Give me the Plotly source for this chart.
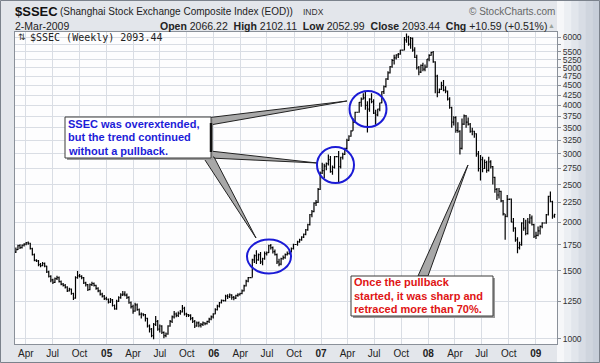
import pandas as pd
import plotly.graph_objects as go

# ---------------- data: $SSEC weekly bars (27-Feb-2004 .. 2-Mar-2009) ----------------
opens = [
    # 2004
    1675,1700,1740,1720,1745,1755,1770,1765,1710,1650,1595,1590,1555,1545,1565,1540,1490,1450,1420,1400,1430,1440,1405,1385,1375,1360,1330,1345,1310,1275,1440,1455,1450,1440,1395,1380,1340,1380,1390,1375,1350,1330,1305,1290,1270,
    # 2005
    1266,1245,1262,1220,1195,1250,1278,1300,1305,1298,1280,1240,1212,1180,1225,1190,1158,1160,1155,1130,1080,1060,1020,1090,1110,1060,1080,1040,1020,1030,1080,1110,1140,1160,1150,1165,1175,1200,1160,1155,1150,1130,1110,1080,1100,1085,1090,1100,1095,1110,1125,1140,
    # 2006
    1161,1190,1215,1240,1258,1255,1290,1285,1300,1280,1275,1295,1300,1310,1330,1370,1410,1440,1440,1600,1640,1600,1650,1580,1610,1660,1670,1740,1720,1680,1650,1580,1560,1610,1620,1650,1660,1680,1710,1752,1752,1780,1800,1830,1860,1910,1970,2090,2130,2240,2250,2430,
    # 2007
    2675,2715,2790,2830,2900,2700,2770,2950,2950,2780,2940,2990,3100,3250,3330,3440,3620,3840,3840,4070,4150,4180,4000,3910,4150,4090,3820,3780,3910,4060,4340,4470,4680,4850,5030,5220,5300,5400,5420,5550,5552,5900,6000,5750,5950,5550,5320,5000,4870,5070,4960,5020,
    # 2008
    5260,5380,5480,5180,4760,4320,4400,4500,4380,4350,4150,3950,3620,3720,3450,3430,3100,3580,3760,3620,3580,3430,3430,3380,3000,2750,2900,2750,2850,2720,2860,2780,2610,2430,2350,2400,2270,2100,2070,2290,2293,2000,1930,1800,1720,1750,1990,1930,1870,2000,2050,1970,
    # 2009
    1840,1850,1900,1950,1990,1990,2090,2330,2260,2066.22,
]
highs = [
    1720,1750,1755,1752,1765,1778,1783,1770,1718,1660,1605,1598,1570,1580,1575,1545,1500,1460,1430,1440,1455,1448,1415,1395,1385,1368,1355,1350,1315,1450,1496,1470,1460,1445,1405,1385,1390,1405,1398,1380,1360,1340,1315,1298,1285,
    1272,1275,1268,1228,1262,1288,1312,1330,1328,1310,1288,1250,1225,1240,1235,1198,1170,1165,1160,1135,1090,1068,1100,1146,1120,1090,1085,1045,1040,1085,1120,1150,1180,1170,1178,1188,1223,1210,1168,1160,1158,1140,1120,1110,1110,1100,1110,1105,1115,1135,1150,1165,
    1200,1225,1245,1265,1262,1300,1305,1310,1305,1290,1300,1312,1315,1342,1380,1422,1445,1445,1610,1650,1692,1660,1675,1620,1680,1680,1750,1757,1730,1700,1660,1610,1620,1640,1660,1680,1690,1720,1760,1758,1790,1812,1840,1870,1920,1980,2100,2150,2250,2280,2450,2700,
    2847,2830,2850,2990,2960,2800,2960,2960,3050,2950,3020,3110,3280,3350,3450,3700,3850,3850,4080,4190,4300,4335,4100,4170,4300,4150,3900,3920,4060,4350,4500,4700,4900,5050,5270,5400,5420,5460,5560,5560,6000,6124,6050,6000,5980,5650,5400,5050,5100,5150,5100,5270,
    5420,5500,5522,5200,4800,4420,4600,4650,4480,4370,4200,3970,3750,3750,3620,3450,3700,3790,3780,3720,3600,3500,3440,3390,3050,2980,2950,2900,2880,2950,2890,2790,2620,2450,2450,2410,2280,2100,2350,2300,2300,2050,1940,1830,1780,2000,2050,2030,2050,2100,2080,1980,
    1890,1950,1960,2000,1995,2100,2340,2400,2270,2102.11,
]
lows = [
    1665,1695,1705,1712,1730,1745,1750,1700,1640,1585,1580,1540,1530,1540,1530,1480,1440,1400,1385,1395,1420,1398,1375,1365,1350,1322,1325,1300,1260,1270,1430,1440,1425,1385,1365,1330,1335,1370,1365,1340,1320,1295,1280,1260,1258,
    1235,1238,1212,1189,1190,1245,1270,1290,1288,1268,1232,1198,1162,1175,1182,1150,1130,1145,1110,1070,1040,1010,998,1080,1050,1040,1030,1004,1010,1025,1075,1100,1130,1138,1140,1155,1170,1150,1140,1140,1118,1100,1067,1075,1072,1070,1080,1085,1090,1100,1118,1130,
    1158,1185,1205,1235,1250,1250,1268,1275,1262,1258,1268,1285,1295,1305,1325,1365,1400,1438,1440,1570,1560,1590,1560,1550,1600,1640,1665,1700,1660,1640,1560,1540,1550,1600,1610,1640,1650,1670,1700,1748,1740,1770,1790,1820,1850,1900,1960,2060,2120,2200,2240,2420,
    2660,2600,2720,2800,2680,2650,2750,2940,2540,2750,2900,2980,3080,3240,3320,3440,3600,3830,3830,3970,4140,3900,3404,3850,4050,3800,3563,3750,3860,4050,4280,4450,4650,4830,5000,5100,5250,5300,5400,5540,5550,5800,5700,5600,5500,5300,4950,4780,4850,4900,4900,5000,
    5200,5370,5150,4300,4200,4300,4380,4350,4300,4120,3920,3500,3550,3400,3400,2990,3080,3560,3500,3550,3400,3350,3300,2950,2700,2560,2690,2740,2680,2700,2750,2500,2380,2280,2300,2250,2080,1802,2060,2280,2000,1890,1780,1664,1700,1740,1900,1850,1860,1980,1960,1820,
    1810,1840,1860,1930,1985,1980,2080,2250,2040,2052.99,
]
closes = [
    1700,1740,1720,1745,1755,1770,1765,1710,1650,1595,1590,1555,1545,1565,1540,1490,1450,1420,1400,1430,1440,1405,1385,1375,1360,1330,1345,1310,1275,1440,1455,1450,1440,1395,1380,1340,1380,1390,1375,1350,1330,1305,1290,1270,1266,
    1245,1262,1220,1195,1250,1278,1300,1305,1298,1280,1240,1212,1180,1225,1190,1158,1160,1155,1130,1080,1060,1020,1090,1110,1060,1080,1040,1020,1030,1080,1110,1140,1160,1150,1165,1175,1200,1160,1155,1150,1130,1110,1080,1100,1085,1090,1100,1095,1110,1125,1140,1161,
    1190,1215,1240,1258,1255,1290,1285,1300,1280,1275,1295,1300,1310,1330,1370,1410,1440,1440,1600,1640,1600,1650,1580,1610,1660,1670,1740,1720,1680,1650,1580,1560,1610,1620,1650,1660,1680,1710,1752,1752,1780,1800,1830,1860,1910,1970,2090,2130,2240,2250,2430,2675,
    2715,2790,2830,2900,2700,2770,2950,2950,2780,2940,2990,3100,3250,3330,3440,3620,3840,3840,4070,4150,4180,4000,3910,4150,4090,3820,3780,3910,4060,4340,4470,4680,4850,5030,5220,5300,5400,5420,5550,5552,5900,6000,5750,5950,5550,5320,5000,4870,5070,4960,5020,5260,
    5380,5480,5180,4760,4320,4400,4500,4380,4350,4150,3950,3620,3720,3450,3430,3100,3580,3760,3620,3580,3430,3430,3380,3000,2750,2900,2750,2850,2720,2860,2780,2610,2430,2350,2400,2270,2100,2070,2290,2293,2000,1930,1800,1720,1750,1990,1930,1870,2000,2050,1970,1840,
    1850,1900,1950,1990,1990,2090,2330,2260,2082.85,2093.44,
]
week_dates = pd.date_range("2004-02-27", periods=len(closes), freq="7D")

y_tickvals = [1000,1250,1500,1750,2000,2250,2500,2750,3000,3250,3500,3750,4000,4250,4500,4750,5000,5250,5500,5750,6000]
y_ticktext = ["1000","1250","1500","1750","2000","2250","2500","2750","3000","3250","3500","3750","4000","4250","4500","4750","5000","5250","5500","","6000"]
x_tickvals = ["2004-04-01","2004-07-01","2004-10-01","2005-01-01","2005-04-01","2005-07-01","2005-10-01","2006-01-01",
              "2006-04-01","2006-07-01","2006-10-01","2007-01-01","2007-04-01","2007-07-01","2007-10-01","2008-01-01",
              "2008-04-01","2008-07-01","2008-10-01","2009-01-01"]
x_ticktext = ["Apr","Jul","Oct","<b>05</b>","Apr","Jul","Oct","<b>06</b>","Apr","Jul","Oct","<b>07</b>",
              "Apr","Jul","Oct","<b>08</b>","Apr","Jul","Oct","<b>09</b>"]

# ---------------- layout geometry (pixels) ----------------
WIDTH, HEIGHT = 600, 363
L, R, T, B = 15, 557, 32, 344
PW, PH = R - L, B - T


def px(x):
    return (x - L) / PW


def py(y):
    return (B - y) / PH


def poly(points):
    return "M " + " L ".join(f"{px(a):.5f},{py(b):.5f}" for a, b in points) + " Z"


FONT = "Liberation Sans, Arial, sans-serif"

fig = go.Figure()
fig.add_trace(go.Ohlc(
    x=week_dates, open=opens, high=highs, low=lows, close=closes,
    increasing=dict(line=dict(color="#000000", width=1.2)),
    decreasing=dict(line=dict(color="#000000", width=1.2)),
    tickwidth=0.45, hoverinfo="skip", showlegend=False,
))

shapes = []
# right-hand gradient strip
grad = ["#f6f7f9", "#eceff3", "#e2e6ec", "#d8dde5", "#cfd5de", "#c7ced9"]
step = (WIDTH - R) / len(grad)
for i, c in enumerate(grad):
    shapes.append(dict(type="rect", xref="paper", yref="paper", layer="below",
                       x0=px(R + i * step), x1=px(R + (i + 1) * step + 0.5), y0=py(HEIGHT), y1=py(0),
                       fillcolor=c, line=dict(width=0)))
# outer frame
shapes.append(dict(type="rect", xref="paper", yref="paper", layer="above",
                   x0=px(0.5), x1=px(WIDTH - 0.5), y0=py(HEIGHT - 0.5), y1=py(0.5),
                   line=dict(color="#7b828c", width=1), fillcolor="rgba(0,0,0,0)"))


# callout pointers
def wedge(pts):
    return dict(type="path", xref="paper", yref="paper", path=poly(pts),
                fillcolor="#a8a8a8", line=dict(color="#222222", width=1))


shapes.append(wedge([(210, 117.5), (347, 101), (210, 125)]))
shapes.append(wedge([(210, 151), (317, 163), (210, 158)]))
shapes.append(wedge([(203, 157), (256, 238), (214, 157)]))
shapes.append(wedge([(418, 276), (468, 165), (428, 276)]))

# callout boxes (shadow + box)
for (x0, y0, x1, y1) in [(65, 117, 211, 158), (351, 276, 493, 316)]:
    shapes.append(dict(type="rect", xref="paper", yref="paper",
                       x0=px(x0 + 2), x1=px(x1 + 2), y0=py(y1 + 2), y1=py(y0 + 2),
                       fillcolor="#9a9a9a", line=dict(width=0)))
    shapes.append(dict(type="rect", xref="paper", yref="paper",
                       x0=px(x0), x1=px(x1), y0=py(y1), y1=py(y0),
                       fillcolor="#ffffff", line=dict(color="#3a3a3a", width=1)))
# thick right edge of blue box where pointers attach
shapes.append(dict(type="line", xref="paper", yref="paper",
                   x0=px(211), x1=px(211), y0=py(152), y1=py(123),
                   line=dict(color="#111111", width=2.5)))

# blue circles
for (cx0, cy0, cx1, cy1) in [(247, 239.5, 291, 273.5), (317, 147, 354, 183), (349.5, 91, 386.5, 127)]:
    shapes.append(dict(type="circle", xref="paper", yref="paper",
                       x0=px(cx0), x1=px(cx1), y0=py(cy1), y1=py(cy0),
                       line=dict(color="#1b1bd6", width=2)))

annotations = []


def txt(x, y, text, size=11, color="#222222", anchor="left", family=FONT):
    annotations.append(dict(xref="paper", yref="paper", x=px(x), y=py(y), text=text,
                            showarrow=False, xanchor=anchor, yanchor="middle", borderpad=0,
                            font=dict(family=family, size=size, color=color)))


# header
txt(14, 11, "<b>$SSEC</b>", size=13, color="#111111")
txt(59, 11.5, "(Shanghai Stock Exchange Composite Index (EOD))", size=10, color="#222222")
txt(302, 11.5, "INDX", size=8.5, color="#333333")
txt(556, 11, "© StockCharts.com", size=10, color="#666666", anchor="right")
txt(14, 25.5, "2-Mar-2009", size=10.5, color="#222222")
txt(548, 25.5, "<b>Open</b> 2066.22  <b>High</b> 2102.11  <b>Low</b> 2052.99  <b>Close</b> 2093.44  <b>Chg</b> +10.59 (+0.51%)",
    size=10.5, color="#222222", anchor="right")
txt(556, 25.5, "▲", size=7, color="#9aa29a", anchor="right")

# chart title inside plot
txt(17, 37, "⇅", size=9, color="#333333", family="DejaVu Sans")
txt(29, 37, "$SSEC (Weekly) 2093.44", size=10, color="#222222", family="DejaVu Sans Mono")

# callout texts
blue = "#1c1cd8"
for i, line in enumerate(["SSEC was overextended,", "but the trend continued", "without a pullback."]):
    txt(67, 124 + i * 13.4, f"<b>{line}</b>", size=11, color=blue)
red = "#e01414"
for i, line in enumerate(["Once the pullback", "started, it was sharp and", "retraced more than 70%."]):
    txt(353, 282 + i * 13.6, f"<b>{line}</b>", size=11, color=red)

fig.update_layout(
    width=WIDTH, height=HEIGHT,
    margin=dict(l=L, r=WIDTH - R, t=T, b=HEIGHT - B, pad=0, autoexpand=False),
    paper_bgcolor="#e3e6eb", plot_bgcolor="#fdfdfe",
    showlegend=False, shapes=shapes, annotations=annotations,
    xaxis=dict(type="date", range=["2004-02-24", "2009-03-14 12:00"],
               rangeslider=dict(visible=False), automargin=False,
               tickvals=x_tickvals, ticktext=x_ticktext, tickangle=0,
               showgrid=True, gridcolor="#d9dde4", gridwidth=1,
               showline=True, linecolor="#8a9099", linewidth=1, mirror=True,
               ticks="", tickfont=dict(family=FONT, size=10, color="#222222"),
               zeroline=False, fixedrange=True),
    yaxis=dict(type="log", range=[2.9871, 3.7911], side="right", automargin=False,
               tickvals=y_tickvals, ticktext=y_ticktext,
               showgrid=True, gridcolor="#d9dde4", gridwidth=1,
               showline=True, linecolor="#8a9099", linewidth=1, mirror=True,
               ticks="outside", ticklen=3, tickcolor="#8a9099",
               tickfont=dict(family=FONT, size=8.5, color="#333333"),
               zeroline=False, fixedrange=True),
)

fig.write_html("out.html", config={"displayModeBar": False},
               post_script="document.body.style.margin='0';document.body.style.overflow='hidden';")
